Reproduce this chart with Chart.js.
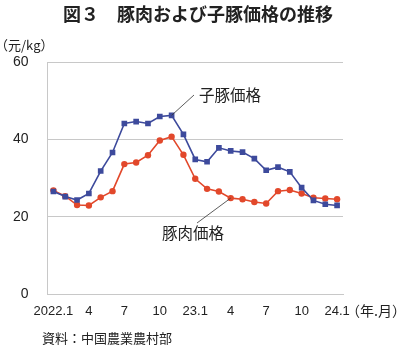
<!DOCTYPE html>
<html>
<head>
<meta charset="utf-8">
<script src="https://cdn.jsdelivr.net/npm/chart.js@4"></script>
<style>
  html, body { margin: 0; padding: 0; background: #fff; }
  #wrap { position: relative; width: 400px; height: 347px; }
  canvas { display: block; }
</style>
</head>
<body>
<div id="wrap"><canvas id="c" width="400" height="347"></canvas></div>
<script>
// Months from 2022.1 to 2024.1 (monthly)
const months = [
  '2022.1', '', '', '4', '', '', '7', '', '', '10', '', '',
  '23.1', '', '', '4', '', '', '7', '', '', '10', '', '',
  '24.1'
];
// Piglet price (元/kg)
const pigletPrice = [
  26.5, 25.2, 24.3, 26.0, 31.8, 36.6, 44.1, 44.6, 44.1, 45.9, 46.2, 41.3,
  34.8, 34.2, 37.8, 37.0, 36.7, 35.0, 32.0, 32.8, 31.6, 27.5, 24.2, 23.2,
  22.9
];
// Pork price (元/kg)
const porkPrice = [
  26.8, 25.3, 23.0, 22.9, 25.0, 26.6, 33.6, 34.0, 35.9, 39.7, 40.7, 36.0,
  29.8, 27.2, 26.5, 24.8, 24.5, 23.8, 23.4, 26.6, 26.9, 26.0, 24.9, 24.7,
  24.5
];
const yTicks = [0, 20, 40, 60];

const BLUE = '#3d4a9c';
const RED = '#e2482b';
const LATIN = '"Liberation Sans", Arial, sans-serif';
const CJK = '"Noto Sans CJK JP", sans-serif';

// Title, unit, source and series callouts drawn on the canvas
const decorations = {
  id: 'decorations',
  afterDraw(chart) {
    const ctx = chart.ctx;
    const xs = chart.scales.x, ys = chart.scales.y;
    ctx.save();
    ctx.fillStyle = '#222';
    ctx.textBaseline = 'middle';

    ctx.textAlign = 'center';
    ctx.font = 'bold 18px ' + CJK;
    ctx.fillText('図３　豚肉および子豚価格の推移', 198, 14);

    ctx.textAlign = 'left';
    ctx.font = '13px ' + CJK;
    ctx.fillText('（元/kg）', -5, 45);

    ctx.font = '14px ' + CJK;
    ctx.fillText('（年.月）', 346, 311);

    ctx.font = '13px ' + CJK;
    ctx.fillText('資料：中国農業農村部', 42, 338);

    // callouts
    ctx.strokeStyle = '#333';
    ctx.lineWidth = 0.8;
    const pi = 10;
    ctx.beginPath();
    ctx.moveTo(xs.getPixelForValue(pi), ys.getPixelForValue(pigletPrice[pi]));
    ctx.lineTo(194, 95);
    ctx.stroke();
    const ri = 15;
    ctx.beginPath();
    ctx.moveTo(xs.getPixelForValue(ri), ys.getPixelForValue(porkPrice[ri]));
    ctx.lineTo(197, 223);
    ctx.stroke();

    ctx.font = '15.5px ' + CJK;
    ctx.fillStyle = '#222';
    ctx.fillText('子豚価格', 199, 95);
    ctx.fillText('豚肉価格', 162, 233);
    ctx.restore();
  }
};

new Chart(document.getElementById('c'), {
  type: 'line',
  data: {
    labels: months,
    datasets: [
      {
        label: '子豚価格',
        data: pigletPrice,
        borderColor: BLUE,
        backgroundColor: BLUE,
        borderWidth: 1.6,
        pointStyle: 'rect',
        pointRadius: 4,
        pointBorderWidth: 0,
        tension: 0
      },
      {
        label: '豚肉価格',
        data: porkPrice,
        borderColor: RED,
        backgroundColor: RED,
        borderWidth: 1.6,
        pointStyle: 'circle',
        pointRadius: 3.2,
        pointBorderWidth: 0,
        tension: 0
      }
    ]
  },
  options: {
    responsive: false,
    animation: false,
    devicePixelRatio: 1,
    layout: { padding: { top: 62, right: 57, left: 0, bottom: 0 } },
    plugins: {
      legend: { display: false },
      tooltip: { enabled: false }
    },
    scales: {
      x: {
        offset: true,
        grid: { display: false, drawTicks: false },
        border: { display: true, color: '#c8c8c8', width: 1 },
        ticks: {
          autoSkip: false,
          maxRotation: 0,
          padding: 10,
          color: '#222',
          font: { family: LATIN, size: 13 }
        },
        afterFit(s) { s.height = 53; }
      },
      y: {
        min: 0,
        max: 60,
        afterBuildTicks(s) { s.ticks = yTicks.map(v => ({ value: v })); },
        grid: { color: '#c8c8c8', drawTicks: false, lineWidth: 1 },
        border: { display: true, color: '#c8c8c8', width: 1 },
        ticks: {
          padding: 19,
          color: '#222',
          font: { family: LATIN, size: 14 }
        },
        afterFit(s) { s.width = 47.5; }
      }
    }
  },
  plugins: [decorations]
});
</script>
</body>
</html>
